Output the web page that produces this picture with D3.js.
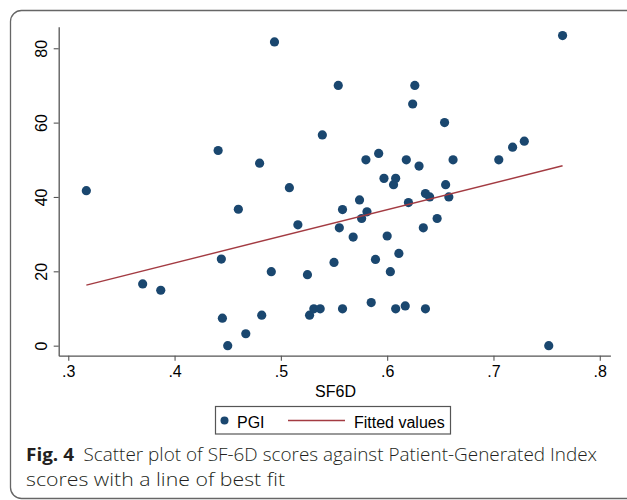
<!DOCTYPE html>
<html>
<head>
<meta charset="utf-8">
<script src="https://cdn.jsdelivr.net/npm/d3@7"></script>
<style>
  html, body { margin: 0; padding: 0; background: #fff; }
  svg { display: block; }
</style>
</head>
<body>
<div id="chart"></div>
<script>
// SF-6D (x) against PGI (y)
const sf6d = [0.317, 0.370, 0.387, 0.441, 0.444, 0.445, 0.450, 0.460, 0.467, 0.480,
  0.482, 0.491, 0.494, 0.508, 0.516, 0.525, 0.527, 0.531, 0.537, 0.539,
  0.550, 0.554, 0.555, 0.558, 0.558, 0.568, 0.574, 0.576, 0.580, 0.581,
  0.585, 0.589, 0.592, 0.597, 0.600, 0.603, 0.606, 0.608, 0.608, 0.611,
  0.617, 0.618, 0.620, 0.624, 0.626, 0.630, 0.634, 0.636, 0.636, 0.640,
  0.647, 0.654, 0.655, 0.658, 0.662, 0.705, 0.718, 0.729, 0.752, 0.765];
const pgi = [41.7, 16.6, 14.9, 52.5, 23.3, 7.4, 0, 36.7, 3.2, 49.1,
  8.2, 19.9, 81.7, 42.5, 32.5, 19.1, 8.2, 9.9, 9.9, 56.7,
  22.4, 70.0, 31.7, 36.6, 9.9, 29.2, 39.2, 34.2, 50.0, 36.0,
  11.6, 23.2, 51.7, 45.0, 29.5, 19.9, 43.3, 45.0, 9.9, 24.8,
  10.7, 50.0, 38.5, 65.0, 70.0, 48.3, 31.7, 40.9, 9.9, 40.0,
  34.2, 60.0, 43.3, 40.0, 50.0, 50.0, 53.4, 55.0, 0, 83.4];

// fitted values line (ends)
const fitX = [0.317, 0.765];
const fitY = [16.3, 48.4];

const xTicks = [0.3, 0.4, 0.5, 0.6, 0.7, 0.8];
const yTicks = [0, 20, 40, 60, 80];
const legendLabels = ['PGI', 'Fitted values'];

const W = 627, H = 500;
const navy = '#1a476f', maroon = '#a33b42', axisCol = '#555';

const svg = d3.select('#chart').append('svg')
  .attr('width', W)
  .attr('height', H);

// outer frame, only the left corners show
svg.append('rect')
  .attr('x', 10.5).attr('y', 10.5)
  .attr('width', 700).attr('height', 488)
  .attr('rx', 11)
  .attr('fill', 'none')
  .attr('stroke', '#666')
  .attr('stroke-width', 1.3);

const x = d3.scaleLinear().domain([0.291, 0.81]).range([58.7, 610.4]);
const y = d3.scaleLinear().domain([-2.7, 85.8]).range([355.7, 26.7]);

const fmt = d => d3.format('.1f')(d).replace(/^0/, '');

// x axis
const gx = svg.append('g')
  .attr('transform', `translate(0,${y.range()[0]})`)
  .call(d3.axisBottom(x).tickValues(xTicks).tickFormat(fmt).tickSize(5).tickSizeOuter(0));
gx.select('.domain').attr('stroke', axisCol).attr('stroke-width', 1.3);
gx.selectAll('.tick line').attr('stroke', axisCol).attr('stroke-width', 1.1);
gx.selectAll('.tick text')
  .attr('y', 10)
  .attr('font-family', 'Liberation Sans, Arial, sans-serif')
  .attr('font-size', 16)
  .attr('fill', '#000');

// y axis
const gy = svg.append('g')
  .attr('transform', `translate(${x.range()[0]},0)`)
  .call(d3.axisLeft(y).tickValues(yTicks).tickSize(5).tickSizeOuter(0));
gy.select('.domain').attr('stroke', axisCol).attr('stroke-width', 1.3);
gy.selectAll('.tick line').attr('stroke', axisCol).attr('stroke-width', 1.1);
gy.selectAll('.tick text')
  .attr('x', null).attr('dy', null)
  .attr('transform', 'translate(-11.5,0) rotate(-90)')
  .attr('text-anchor', 'middle')
  .attr('font-family', 'Liberation Sans, Arial, sans-serif')
  .attr('font-size', 16)
  .attr('fill', '#000');

// x title
svg.append('text')
  .attr('x', (x.range()[0] + x.range()[1]) / 2 + 1)
  .attr('y', 397)
  .attr('text-anchor', 'middle')
  .attr('font-family', 'Liberation Sans, Arial, sans-serif')
  .attr('font-size', 16)
  .text('SF6D');

// points
svg.append('g')
  .selectAll('circle')
  .data(sf6d.map((v, i) => ({ x: v, y: pgi[i] })))
  .enter()
  .append('circle')
  .attr('cx', d => x(d.x))
  .attr('cy', d => y(d.y))
  .attr('r', 4.6)
  .attr('fill', navy);

// fitted line
svg.append('path')
  .datum(fitX.map((v, i) => [v, fitY[i]]))
  .attr('d', d3.line().x(d => x(d[0])).y(d => y(d[1])))
  .attr('fill', 'none')
  .attr('stroke', maroon)
  .attr('stroke-width', 1.4);

// legend
const lg = svg.append('g');
lg.append('rect')
  .attr('x', 215.5).attr('y', 406.5)
  .attr('width', 235).attr('height', 27.5)
  .attr('fill', '#fff')
  .attr('stroke', axisCol)
  .attr('stroke-width', 1.2);
lg.append('circle').attr('cx', 224.5).attr('cy', 420.5).attr('r', 4).attr('fill', navy);
lg.append('line')
  .attr('x1', 288).attr('x2', 345).attr('y1', 420.5).attr('y2', 420.5)
  .attr('stroke', maroon).attr('stroke-width', 1.4);
lg.selectAll('text.lab')
  .data(legendLabels)
  .enter()
  .append('text')
  .attr('class', 'lab')
  .attr('x', (d, i) => i === 0 ? 237 : 354)
  .attr('y', 427.5)
  .attr('font-family', 'Liberation Sans, Arial, sans-serif')
  .attr('font-size', 16)
  .text(d => d);

// caption
const cap = svg.append('g')
  .attr('font-family', 'Open Sans, Noto Sans, sans-serif')
  .attr('font-size', 18)
  .attr('font-weight', 300)
  .attr('fill', '#231f20');
const line1 = cap.append('text').attr('x', 26).attr('y', 461);
line1.append('tspan').attr('font-weight', 'bold').text('Fig. 4');
line1.append('tspan').attr('dx', 9).text('Scatter plot of SF-6D scores against Patient-Generated Index');
const line2 = cap.append('text').attr('x', 26).attr('y', 486).text('scores with a line of best fit');

// fit the caption to the widths the figure uses
line1.attr('textLength', 571).attr('lengthAdjust', 'spacingAndGlyphs');
line2.attr('textLength', 259).attr('lengthAdjust', 'spacingAndGlyphs');
</script>
</body>
</html>
